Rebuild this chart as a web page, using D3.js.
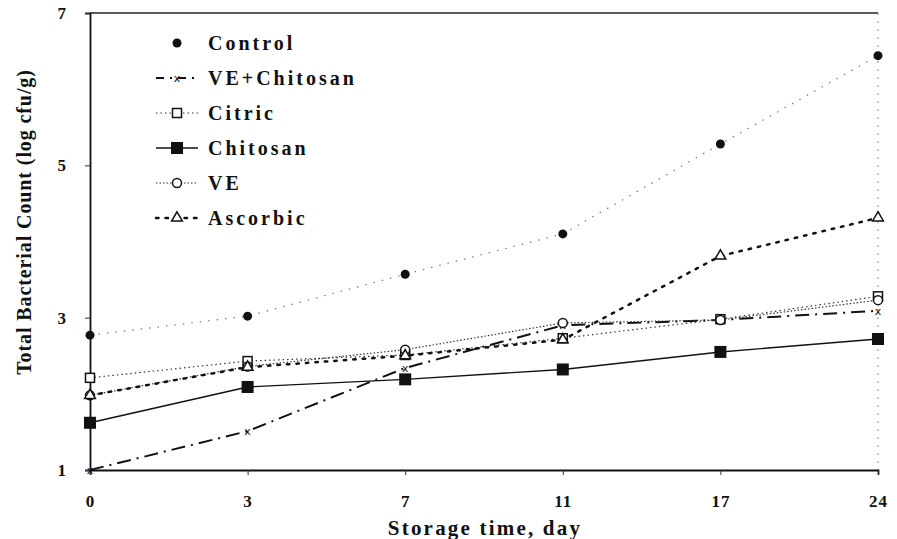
<!DOCTYPE html>
<html><head><meta charset="utf-8">
<script src="https://cdn.jsdelivr.net/npm/d3@7"></script>
<style>body{margin:0;background:#fff}svg{display:block}text{font-family:"Liberation Serif","DejaVu Serif",serif;font-weight:bold;fill:#111}</style>
</head><body><svg id="c" width="897" height="539"></svg>
<script>
const days = ["0","3","7","11","17","24"];
const yTicks = [1,3,5,7];
const seriesNames = ["Control","VE+Chitosan","Citric","Chitosan","VE","Ascorbic"];
const control     = [2.77,3.02,3.57,4.10,5.28,6.44];
const veChitosan  = [1.00,1.51,2.34,2.90,2.97,3.09];
const citric      = [2.21,2.43,2.51,2.73,2.98,3.28];
const chitosan    = [1.62,2.09,2.19,2.32,2.55,2.72];
const ve          = [1.98,2.36,2.58,2.93,2.97,3.23];
const ascorbic    = [1.98,2.35,2.50,2.71,3.81,4.31];
const xTitle = "Storage time, day";
const yTitle = "Total Bacterial Count (log cfu/g)";

const svg = d3.select("#c");
const L=90,R=878,T=13,B=470;
const x = d3.scalePoint().domain(days).range([L,R]);
const y = d3.scaleLinear().domain([1,7]).range([B,T]);

const styles = {
  "Control":    {dash:"1.5,7", w:1.2, stroke:"#777", marker:"dot"},
  "VE+Chitosan":{dash:"14,6,2,6", w:2, stroke:"#111", marker:"x"},
  "Citric":     {dash:"1.5,3", w:1.2, stroke:"#333", marker:"osq"},
  "Chitosan":   {dash:null, w:1.4, stroke:"#111", marker:"sq"},
  "VE":         {dash:"1.5,2", w:1.2, stroke:"#333", marker:"ocirc"},
  "Ascorbic":   {dash:"2.5,7", w:2.5, stroke:"#111", marker:"otri", cap:"round"}
};
const data = [control,veChitosan,citric,chitosan,ve,ascorbic];

// frame
svg.append("line").attr("x1",L).attr("x2",R).attr("y1",T).attr("y2",T).attr("stroke","#222").attr("stroke-width",1.5);
svg.append("line").attr("x1",R).attr("x2",R).attr("y1",T).attr("y2",B).attr("stroke","#888").attr("stroke-width",1).attr("stroke-dasharray","2,6");

// axes
const gx = svg.append("g").attr("transform",`translate(0,${B})`)
  .call(d3.axisBottom(x).tickSize(5).tickPadding(20));
const gy = svg.append("g").attr("transform",`translate(${L},0)`)
  .call(d3.axisLeft(y).tickValues(yTicks).tickSize(5).tickPadding(18).tickFormat(d3.format("d")));
[gx,gy].forEach(g=>{
  g.select(".domain").attr("stroke","#111").attr("stroke-width",1.8);
  g.selectAll(".tick line").attr("stroke","#333");
  g.selectAll("text").attr("font-size",17).style("font-family","Liberation Serif").style("font-weight","bold").attr("fill","#111").style("letter-spacing","1px");
});

svg.append("text").attr("x",485).attr("y",535).attr("text-anchor","middle").attr("font-size",21).style("letter-spacing","2.2px").text(xTitle);
svg.append("text").attr("transform",`translate(31,${222}) rotate(-90)`).attr("text-anchor","middle").attr("font-size",20).style("letter-spacing","0.9px").text(yTitle);

function marker(g,type,cx,cy){
  if(type==="dot") g.append("circle").attr("cx",cx).attr("cy",cy).attr("r",4.5).attr("fill","#111");
  else if(type==="x") g.append("text").attr("x",cx).attr("y",cy+4).attr("text-anchor","middle").attr("font-size",11).style("font-family","DejaVu Sans").style("font-weight","normal").text("x");
  else if(type==="osq") g.append("rect").attr("x",cx-4.5).attr("y",cy-4.5).attr("width",9).attr("height",9).attr("fill","#fff").attr("stroke","#111").attr("stroke-width",1.5);
  else if(type==="sq") g.append("rect").attr("x",cx-6).attr("y",cy-6).attr("width",12).attr("height",12).attr("fill","#111");
  else if(type==="ocirc") g.append("circle").attr("cx",cx).attr("cy",cy).attr("r",4.5).attr("fill","#fff").attr("stroke","#111").attr("stroke-width",1.5);
  else if(type==="otri") g.append("path").attr("d",d3.symbol(d3.symbolTriangle,50)()).attr("transform",`translate(${cx},${cy})`).attr("fill","#fff").attr("stroke","#111").attr("stroke-width",1.5);
}

const line = d3.line().x((d,i)=>x(days[i])).y(d=>y(d));
seriesNames.forEach((name,k)=>{
  const s=styles[name];
  const g=svg.append("g");
  g.append("path").attr("d",line(data[k])).attr("fill","none").attr("stroke",s.stroke).attr("stroke-width",s.w)
    .attr("stroke-dasharray",s.dash).attr("stroke-linecap",s.cap||"butt");
  data[k].forEach((v,i)=>marker(g,s.marker,x(days[i]),y(v)));
});

// legend
const lg = svg.append("g");
seriesNames.forEach((name,k)=>{
  const s=styles[name];
  const yy = 43 + k*35;
  const g=lg.append("g");
  if(name!=="Control")
    g.append("line").attr("x1",156).attr("x2",198).attr("y1",yy).attr("y2",yy).attr("stroke",s.stroke).attr("stroke-width",s.w)
      .attr("stroke-dasharray",name==="VE+Chitosan"?"8,6,2,6":s.dash).attr("stroke-linecap",s.cap||"butt");
  marker(g,s.marker,177,yy);
  g.append("text").attr("x",208).attr("y",yy+7).attr("font-size",20).style("letter-spacing","3px").text(name);
});
</script></body></html>
